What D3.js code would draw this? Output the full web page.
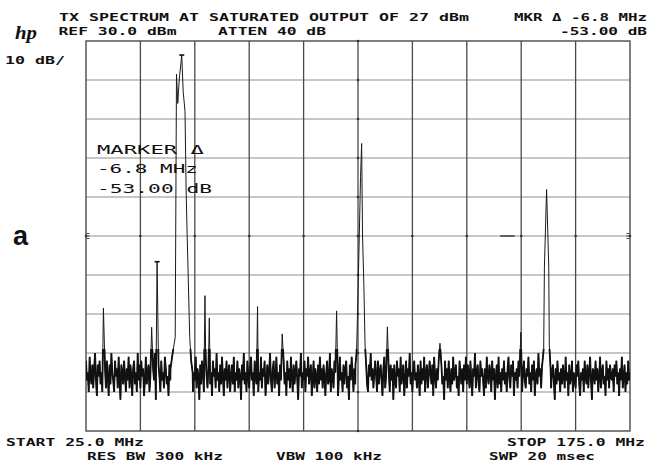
<!DOCTYPE html>
<html><head><meta charset="utf-8">
<script src="https://cdn.jsdelivr.net/npm/d3@7"></script>
<style>html,body{margin:0;padding:0;background:#fff;}svg{display:block;}</style>
</head><body>
<svg id="chart" width="648" height="465"></svg>
<script>
// ---- Analyzer settings ----
const startMHz = 25.0, stopMHz = 175.0;
const refLevelDbm = 30.0, dbPerDiv = 10, divisions = 10;
const attenDb = 40;
const resBwKHz = 300, vbwKHz = 100, sweepMs = 20;
const titleText = "TX SPECTRUM AT SATURATED OUTPUT OF 27 dBm";

// ---- Carrier responses, trace points [MHz, dBm] ----
const carrierMain = [[48.3,-54],[48.9,-50],[49.6,-46],[49.95,21.5],[50.3,14],[50.7,20],[51.4,26.4],
  [51.8,17],[52.3,12],[52.6,-8],[52.9,-20],[53.2,-31],[53.6,-46],[54.0,-52],[54.4,-55]];
const carrierSecond = [[99.3,-53],[99.6,-50],[100.0,-35],[100.7,-5],[101.0,3.7],[101.25,-20],
  [101.6,-32],[101.95,-48],[102.3,-54]];
const carrierThird = [[150.8,-53],[151.2,-49],[151.4,-28],[152.0,-8.1],[152.6,-28],[152.75,-48],
  [153.1,-54]];

// ---- Discrete spurs [MHz, dBm] ----
const spurs = [[29.8,-38.5],[43.1,-43.4],[57.8,-35.3],[59.0,-41],[72.3,-38.1],[79.1,-45.1],
  [94.1,-39.2],[108.1,-43.3],[122.6,-47.5],[144.9,-44.7]];

// ---- Markers ----
const markerRef = [51.4, 26.4];          // reference marker on the main carrier
const markerDeltaMHz = -6.8, markerDeltaDb = -53.00;

// ---- Noise floor samples, 0.25 MHz apart from the start frequency ----
const noiseStepMHz = 0.25;
const noiseDbm = [
 -52,-57,-55,-60,-51,-56,-58,-53,-59,-54,-50,-57,-61,-53,-56,-52,-58,-55,-60,-51,
 -57,-54,-59,-52,-56,-61,-53,-58,-50,-55,-57,-60,-52,-56,-54,-59,-51,-57,-62,-53,
 -55,-58,-52,-56,-60,-54,-57,-51,-59,-53,-56,-61,-54,-52,-58,-55,-60,-50,-57,-53,
 -59,-52,-56,-54,-61,-57,-51,-58,-55,-53,-60,-56,-52,-59,-54,-57,-50,-62,-55,-58,
 -53,-56,-60,-52,-57,-55,-59,-51,-54,-58,-56,-61,-53,-57,-50,-55,-59,-52,-56,-60,
 -54,-58,-51,-57,-53,-60,-56,-52,-59,-55,-57,-50,-61,-54,-58,-53,-56,-52,-60,-55,
 -57,-51,-59,-54,-56,-62,-53,-58,-52,-55,-60,-57,-51,-56,-59,-54,-52,-58,-55,-61,
 -52,-56,-54,-59,-50,-57,-55,-60,-53,-58,-51,-56,-61,-54,-57,-52,-59,-55,-53,-60,
 -56,-53,-58,-51,-60,-55,-57,-52,-59,-54,-56,-62,-53,-57,-50,-58,-55,-60,-52,-56,
 -59,-54,-51,-57,-55,-61,-52,-56,-58,-53,-60,-55,-57,-51,-59,-54,-56,-52,-61,-57,
 -53,-58,-55,-50,-57,-60,-54,-52,-59,-56,-51,-58,-55,-61,-53,-57,-60,-54,-52,-58,
 -55,-61,-52,-57,-54,-59,-51,-56,-60,-53,-58,-55,-52,-57,-62,-54,-56,-50,-59,-55,
 -57,-52,-60,-54,-56,-51,-58,-55,-53,-61,-57,-52,-59,-54,-56,-60,-53,-58,-51,-57,
 -54,-59,-53,-56,-61,-55,-52,-58,-57,-50,-60,-54,-56,-59,-52,-55,-58,-53,-61,-56,
 -51,-57,-55,-60,-53,-58,-54,-52,-59,-56,-62,-53,-57,-51,-55,-60,-54,-58,-52,-56,
 -58,-53,-56,-51,-59,-54,-61,-57,-52,-55,-58,-60,-53,-56,-50,-57,-54,-59,-55,-52,
 -56,-60,-52,-58,-55,-53,-57,-61,-54,-51,-59,-56,-52,-58,-55,-60,-53,-57,-54,-62,
 -53,-57,-59,-52,-56,-54,-60,-51,-58,-55,-53,-61,-57,-52,-59,-54,-56,-50,-58,-55,
 -60,-54,-52,-57,-55,-59,-53,-56,-61,-52,-58,-54,-57,-51,-60,-55,-53,-59,-56,-52,
 -55,-58,-53,-61,-51,-56,-59,-54,-57,-52,-60,-55,-53,-58,-56,-62,-52,-57,-54,-59,
 -52,-56,-60,-54,-58,-51,-57,-55,-53,-59,-56,-61,-52,-55,-58,-54,-60,-53,-57,-51,
 -58,-53,-55,-59,-52,-57,-61,-54,-56,-50,-59,-55,-53,-58,-60,-52,-56,-54,-57,-61,
 -54,-59,-51,-56,-58,-53,-55,-60,-52,-57,-54,-62,-56,-53,-59,-51,-58,-55,-60,-54,
 -57,-52,-58,-55,-60,-54,-51,-57,-59,-53,-56,-52,-61,-55,-57,-54,-59,-52,-56,-58,
 -53,-60,-55,-52,-57,-59,-54,-56,-51,-58,-55,-60,-53,-57,-52,-61,-56,-54,-58,-50,
 -56,-54,-59,-53,-61,-55,-57,-52,-58,-54,-60,-56,-51,-59,-55,-53,-57,-62,-54,-58,
 -52,-57,-55,-60,-54,-58,-53,-56,-59,-51,-57,-55,-61,-53,-58,-56,-52,-60,-55,-57,
 -59,-53,-56,-52,-58,-61,-55,-57,-54,-60,-52,-56,-58,-53,-59,-55,-51,-57,-62,-54,
 -55,-58,-52,-57,-54,-60,-56,-51,-59,-55,-53,-58,-56,-61,-52,-57,-54,-59,-53,-56,
 -57,-54,-60,-53,-56,-52,-58,-55,-61,-54,-57,-51,-59,-56,-53,-60,-55,-58,-52,-57,
 -55
];

// ---- Layout ----
const plot = {left: 86, right: 630, top: 41, bottom: 431};
const svg = d3.select("#chart");
const ink = "#111";

const x = d3.scaleLinear().domain([startMHz, stopMHz]).range([plot.left, plot.right]);
const bottomDbm = refLevelDbm - dbPerDiv * divisions;
const y = d3.scaleLinear().domain([bottomDbm, refLevelDbm]).range([plot.bottom, plot.top]);

// ---- Graticule ----
const g = svg.append("g");
const fTicks = d3.range(divisions + 1).map(i => startMHz + i * (stopMHz - startMHz) / divisions);
const aTicks = d3.range(divisions + 1).map(i => bottomDbm + i * dbPerDiv);

g.selectAll("line.h").data(aTicks.slice(1, -1)).join("line")
  .attr("x1", plot.left).attr("x2", plot.right)
  .attr("y1", d => y(d)).attr("y2", d => y(d))
  .attr("stroke", "#8e8e8e").attr("stroke-width", 1);
g.selectAll("line.v").data(fTicks.slice(1, -1)).join("line")
  .attr("y1", plot.top).attr("y2", plot.bottom)
  .attr("x1", d => x(d)).attr("x2", d => x(d))
  .attr("stroke", "#4a4a4a").attr("stroke-width", 1.3);
g.append("rect").attr("x", plot.left).attr("y", plot.top)
  .attr("width", plot.right - plot.left).attr("height", plot.bottom - plot.top)
  .attr("fill", "none").attr("stroke", "#4a4a4a").attr("stroke-width", 1.4);

// minor dots along the centre lines
const fCenter = fTicks[divisions / 2], aCenter = aTicks[divisions / 2];
g.selectAll("circle.cv").data(aTicks).join("circle")
  .attr("cx", x(fCenter)).attr("cy", d => y(d)).attr("r", 1.3).attr("fill", "#333");
g.selectAll("circle.ch").data(fTicks).join("circle")
  .attr("cx", d => x(d)).attr("cy", y(aCenter)).attr("r", 1.3).attr("fill", "#333");
// edge index marks at the centre line
[plot.left + 2, plot.right - 2].forEach(px => {
  [-2.5, 0, 2.5].forEach(dy => g.append("line")
    .attr("x1", px - 1.5).attr("x2", px + 1.5)
    .attr("y1", y(aCenter) + dy).attr("y2", y(aCenter) + dy)
    .attr("stroke", "#333").attr("stroke-width", 0.9));
});
// display line segment
g.append("line").attr("x1", x(139.2)).attr("x2", x(143.2))
  .attr("y1", y(aCenter)).attr("y2", y(aCenter))
  .attr("stroke", "#333").attr("stroke-width", 1.4);

// ---- Trace ----
const carriers = [carrierMain, carrierSecond, carrierThird];
const deltaSpur = [markerRef[0] + markerDeltaMHz, markerRef[1] + markerDeltaDb];
const allSpurs = spurs.concat([deltaSpur]);
const tracePts = [];
noiseDbm.forEach((v, i) => {
  const f = startMHz + i * noiseStepMHz;
  if (carriers.some(c => f >= c[0][0] && f <= c[c.length - 1][0])) return;
  if (allSpurs.some(s => Math.abs(s[0] - f) < 0.2)) return;
  tracePts.push([f, v]);
});
carriers.forEach(c => tracePts.push(...c));
allSpurs.forEach(s => tracePts.push(s));
tracePts.sort((a, b) => a[0] - b[0]);

const defs = svg.append("defs");
defs.append("clipPath").attr("id", "plotClip").append("rect")
  .attr("x", plot.left).attr("y", plot.top)
  .attr("width", plot.right - plot.left).attr("height", plot.bottom - plot.top);
// band around the noise floor, where the dense trace prints heavier
const floorTop = y(-49);
defs.append("clipPath").attr("id", "floorClip").append("rect")
  .attr("x", plot.left).attr("y", floorTop)
  .attr("width", plot.right - plot.left).attr("height", plot.bottom - floorTop);

const traceLine = d3.line().x(d => x(d[0])).y(d => y(d[1]));
svg.append("path").datum(tracePts)
  .attr("clip-path", "url(#plotClip)")
  .attr("d", traceLine)
  .attr("fill", "none").attr("stroke", "#1a1a1a").attr("stroke-width", 1.0);
svg.append("path").datum(tracePts)
  .attr("clip-path", "url(#floorClip)")
  .attr("d", traceLine)
  .attr("fill", "none").attr("stroke", ink).attr("stroke-width", 1.8);

// marker symbols
[markerRef, deltaSpur].forEach(m => {
  svg.append("line").attr("x1", x(m[0]) - 2.5).attr("x2", x(m[0]) + 2.5)
    .attr("y1", y(m[1])).attr("y2", y(m[1]))
    .attr("stroke", ink).attr("stroke-width", 1.6);
});

// ---- Annotation text ----
const mono = "'DejaVu Sans Mono', 'Liberation Mono', monospace";
function label(txt, px, py, len, o = {}) {
  svg.append("text").attr("x", px).attr("y", py)
    .attr("textLength", len).attr("lengthAdjust", "spacingAndGlyphs")
    .attr("font-family", o.family || mono).attr("font-size", o.size || 10.5)
    .attr("font-weight", o.weight || "bold").attr("font-style", o.style || "normal")
    .attr("fill", ink).text(txt);
}
const fmt1 = v => v.toFixed(1), fmt2 = v => v.toFixed(2);

label(titleText, 59, 20.5, 410);
label(`MKR \u0394 ${fmt1(markerDeltaMHz)} MHz`, 514, 20.5, 133);
label(`REF ${fmt1(refLevelDbm)} dBm`, 58.5, 34.5, 118);
label(`ATTEN ${attenDb} dB`, 218, 34.5, 108);
label(`${fmt2(markerDeltaDb)} dB`, 560, 34.5, 87);
label(`${dbPerDiv} dB/`, 5, 64, 60);
label(`START ${fmt1(startMHz)} MHz`, 6, 446, 138);
label(`STOP ${fmt1(stopMHz)} MHz`, 507, 446, 138);
label(`RES BW ${resBwKHz} kHz`, 87, 460, 136);
label(`VBW ${vbwKHz} kHz`, 276, 460, 106);
label(`SWP ${sweepMs} msec`, 489, 460, 106);

// marker readout on screen
label("MARKER \u0394", 97, 154, 107, {size: 12.4, weight: "normal"});
label(`${fmt1(markerDeltaMHz)} MHz`, 97, 173.3, 101, {size: 12.4, weight: "normal"});
label(`${fmt2(markerDeltaDb)} dB`, 97, 192.7, 115, {size: 12.4, weight: "normal"});

// logo and panel letter
label("hp", 15, 38.5, 22, {family: "'Liberation Serif', serif", size: 18, style: "italic"});
svg.append("text").attr("x", 13).attr("y", 245)
  .attr("font-family", "'Liberation Sans', Arial, sans-serif").attr("font-size", 27)
  .attr("font-weight", "bold").attr("fill", ink).text("a");
</script>
</body></html>
